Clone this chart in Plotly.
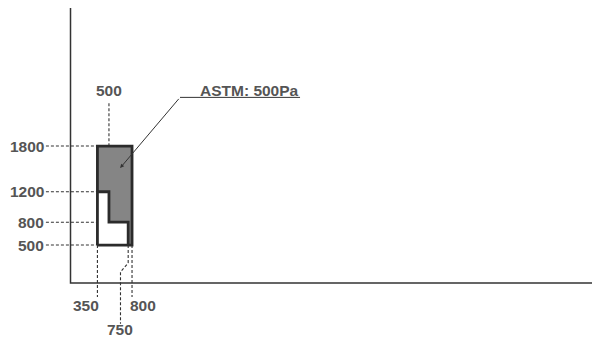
import plotly.graph_objects as go

# ASTM 500Pa window size region (width x height, mm)
x_marks = [350, 500, 750, 800]
y_marks = [500, 800, 1200, 1800]

shaded_x = [350, 350, 800, 800, 750, 750, 500, 500, 350]
shaded_y = [1200, 1800, 1800, 500, 500, 800, 800, 1200, 1200]

outer_x = [350, 800, 800, 350, 350]
outer_y = [500, 500, 1800, 1800, 500]

step_x = [350, 500, 500, 750, 750]
step_y = [1200, 1200, 800, 800, 500]

callout_text = "ASTM: 500Pa"

# layout constants (data units)
X_RANGE = [-917, 6782]
Y_RANGE = [-734, 3718]
X_END = 6782
Y_TOP = 3613
LABEL_X = -325
TOP_LABEL_Y = 2523
BOTTOM_LABEL_Y = -288
BOTTOM_DASH_END = -183

LINE = "#333333"
TEXT = "#555555"
FONT = dict(family="Liberation Sans, Arial, sans-serif", size=15.5, color=TEXT)
dash = dict(color=LINE, width=1.1, dash="3px,2px")

fig = go.Figure()

# axes
fig.add_trace(go.Scatter(x=[0, 0, X_END], y=[Y_TOP, 0, 0], mode="lines",
                         line=dict(color=LINE, width=1.5), hoverinfo="skip"))

# horizontal leaders
for yv in y_marks:
    fig.add_trace(go.Scatter(x=[LABEL_X + 5, x_marks[0]], y=[yv, yv], mode="lines",
                             line=dash, hoverinfo="skip"))
    fig.add_annotation(x=LABEL_X, y=yv, text=f"<b>{yv}</b>", showarrow=False,
                       xanchor="right", yanchor="middle", font=FONT)

# vertical leader for 500 (top)
fig.add_trace(go.Scatter(x=[x_marks[1], x_marks[1]], y=[TOP_LABEL_Y - 160, 1200], mode="lines",
                         line=dash, hoverinfo="skip"))
fig.add_annotation(x=x_marks[1], y=TOP_LABEL_Y, text=f"<b>{x_marks[1]}</b>", showarrow=False,
                   xanchor="center", yanchor="middle", font=FONT)

# vertical leaders for 350 and 800
for xv, anchor, shift in [(x_marks[0], "right", 4), (x_marks[3], "left", -4)]:
    fig.add_trace(go.Scatter(x=[xv, xv], y=[500, BOTTOM_DASH_END], mode="lines",
                             line=dash, hoverinfo="skip"))
    fig.add_annotation(x=xv, y=BOTTOM_LABEL_Y, text=f"<b>{xv}</b>", showarrow=False,
                       xanchor=anchor, xshift=shift, yanchor="middle", font=FONT)

# dog-leg leader for 750
fig.add_trace(go.Scatter(x=[x_marks[2], x_marks[2], x_marks[2] - 100, x_marks[2] - 100],
                         y=[500, 265, 146, -535], mode="lines",
                         line=dash, hoverinfo="skip"))
fig.add_annotation(x=x_marks[2] - 105, y=-612, text=f"<b>{x_marks[2]}</b>", showarrow=False,
                   xanchor="center", yanchor="middle", font=FONT)

# shaded region
fig.add_trace(go.Scatter(x=shaded_x, y=shaded_y, mode="lines", fill="toself",
                         fillcolor="#858585", line=dict(width=0), hoverinfo="skip"))
fig.add_trace(go.Scatter(x=outer_x, y=outer_y, mode="lines",
                         line=dict(color="#2b2b2b", width=2.8), hoverinfo="skip"))
fig.add_trace(go.Scatter(x=step_x, y=step_y, mode="lines",
                         line=dict(color="#2b2b2b", width=2.8), hoverinfo="skip"))

# callout
fig.add_trace(go.Scatter(x=[1424, 2985], y=[2439, 2439], mode="lines",
                         line=dict(color=LINE, width=1), hoverinfo="skip"))
fig.add_annotation(x=645, y=1511, ax=1424, ay=2439, axref="x", ayref="y",
                   text="", showarrow=True, arrowhead=2, arrowsize=0.8,
                   arrowwidth=1, arrowcolor=LINE)
fig.add_annotation(x=2328, y=2523, text=f"<b>{callout_text}</b>", showarrow=False,
                   xanchor="center", yanchor="middle", font=FONT)

fig.update_layout(
    width=592, height=339,
    margin=dict(l=0, r=0, t=0, b=0),
    plot_bgcolor="white", paper_bgcolor="white",
    showlegend=False,
    xaxis=dict(range=X_RANGE, visible=False, fixedrange=True),
    yaxis=dict(range=Y_RANGE, visible=False, fixedrange=True),
)

# drop the default page margin so the figure sits at the window's corner
fig.write_html("out.html", config={"displayModeBar": False},
               post_script="document.body.style.margin='0';document.body.style.overflow='hidden';")
